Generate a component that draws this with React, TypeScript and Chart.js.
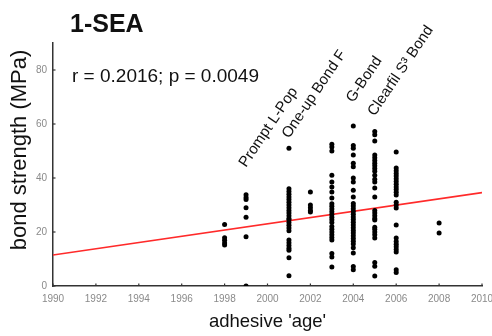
import React, { useEffect, useRef } from "react";
import { Chart, registerables } from "chart.js";

Chart.register(...registerables);

const FONT = "'Liberation Sans', Arial, sans-serif";

const titleText = "1-SEA";
const statsText = "r = 0.2016; p = 0.0049";
const xTitle = "adhesive 'age'";
const yTitle = "bond strength (MPa)";

const years = [1998, 1999, 2001, 2002, 2003, 2004, 2005, 2006, 2008];
const strengths: number[][] = [
  [22.8, 17.9, 16.9, 15.9, 15.2],
  [33.8, 32.8, 32.0, 29.0, 25.5, 18.2, 0],
  [51, 36, 35, 34, 33, 32, 31, 30, 29, 28, 27, 26, 25, 24.5, 23.5, 22.5, 21.5, 20.5, 17, 16, 15, 14, 13.2, 10.5, 3.8],
  [34.8, 30, 29, 28, 27.4],
  [52.5, 51.5, 50, 41, 38.5, 36.7, 34.8, 32.6, 30.5, 29.5, 28.5, 27.5, 26.5, 25.5, 24.5, 23.5, 22, 21, 20, 19, 18, 17, 12, 10.7, 7],
  [59.3, 52, 51, 48.5, 45.5, 44.2, 40, 38.5, 35.5, 33, 30.6, 29.6, 28.6, 27.6, 26.6, 25.6, 24.6, 23.6, 22.6, 21.6, 20.6, 19.6, 18.6, 17.6, 16.6, 15.6, 14.2, 12.2, 7.2, 6],
  [57.2, 56, 53.7, 48.5, 47.5, 46.5, 45.5, 44.5, 43.5, 42.5, 41, 39.5, 38.5, 36.3, 33, 28, 27, 26, 25, 24.4, 21.8, 21, 20, 19, 17.8, 8.7, 7.3, 3.7],
  [49.6, 43.7, 42.7, 41.7, 40.7, 39.7, 38.7, 37.7, 36.7, 35.7, 34.7, 33.7, 31, 30, 28.9, 22.6, 17.8, 16.5, 15.5, 14.5, 13.5, 12.6, 6, 5],
  [23.3, 19.6],
];

const fitYears = [1990, 2010];
const fitValues = [11.5, 34.6];

const xTicks = [1990, 1992, 1994, 1996, 1998, 2000, 2002, 2004, 2006, 2008, 2010];
const yTicks = [0, 20, 40, 60, 80];

const adhesiveNames = ["Prompt L-Pop", "One-up Bond F", "G-Bond", "Clearfil S³ Bond"];
const adhesiveYears = [1999, 2001, 2004, 2005];
const adhesiveLevels = [43.7, 54.4, 67.7, 62.7];

const textPlugin = {
  id: "textPlugin",
  afterDraw(chart: any) {
    const ctx = chart.ctx;
    const xs = chart.scales.x;
    const ys = chart.scales.y;
    const area = chart.chartArea;
    ctx.save();
    // inward tick marks
    ctx.strokeStyle = "#333";
    ctx.lineWidth = 1.2;
    xTicks.forEach((t) => {
      const px = xs.getPixelForValue(t);
      ctx.beginPath();
      ctx.moveTo(px, area.bottom);
      ctx.lineTo(px, area.bottom - 2.5);
      ctx.stroke();
    });
    yTicks.forEach((t) => {
      const py = ys.getPixelForValue(t);
      ctx.beginPath();
      ctx.moveTo(area.left, py);
      ctx.lineTo(area.left + 2.5, py);
      ctx.stroke();
    });

    ctx.fillStyle = "#111";
    ctx.textAlign = "left";
    ctx.textBaseline = "alphabetic";
    ctx.font = `bold 25px ${FONT}`;
    ctx.fillText(titleText, 70, 32);

    ctx.font = `19px ${FONT}`;
    ctx.fillText(statsText, 72, 82);

    ctx.font = `18.5px ${FONT}`;
    ctx.textAlign = "center";
    ctx.fillText(xTitle, (area.left + area.right) / 2, 327);

    ctx.save();
    ctx.translate(26, 150);
    ctx.rotate(-Math.PI / 2);
    ctx.font = `22px ${FONT}`;
    ctx.fillText(yTitle, 0, 0);
    ctx.restore();

    ctx.font = `15px ${FONT}`;
    ctx.textAlign = "left";
    adhesiveNames.forEach((name, i) => {
      const px = xs.getPixelForValue(adhesiveYears[i]);
      const py = ys.getPixelForValue(adhesiveLevels[i]);
      ctx.save();
      ctx.translate(px, py);
      ctx.rotate((-56 * Math.PI) / 180);
      ctx.fillText(name, 0, 0);
      ctx.restore();
    });
    ctx.restore();
  },
};

export default function App() {
  const ref = useRef<HTMLCanvasElement | null>(null);
  useEffect(() => {
    document.body.style.margin = "0";
    const canvas = ref.current;
    if (!canvas) return;
    const points = years.flatMap((yr, i) => strengths[i].map((v) => ({ x: yr, y: v })));
    const fit = fitYears.map((yr, i) => ({ x: yr, y: fitValues[i] }));
    const tickFont = { size: 10, family: FONT };
    const chart = new Chart(canvas, {
      type: "scatter",
      data: {
        datasets: [
          {
            data: points,
            pointRadius: 2.5,
            pointBackgroundColor: "#000",
            pointBorderWidth: 0,
            order: 0,
          },
          {
            type: "line",
            data: fit,
            borderColor: "#ff2a2a",
            borderWidth: 1.6,
            pointRadius: 0,
            showLine: true,
            fill: false,
            order: 1,
          } as any,
        ],
      },
      options: {
        responsive: false,
        animation: false,
        layout: { padding: { top: 43, right: 10, left: 0, bottom: 0 } },
        plugins: { legend: { display: false }, tooltip: { enabled: false }, title: { display: false } },
        scales: {
          x: {
            type: "linear",
            min: 1990,
            max: 2010,
            afterBuildTicks: (s: any) => {
              s.ticks = xTicks.map((v) => ({ value: v }));
            },
            afterFit: (s: any) => {
              s.height = 50;
              s.paddingLeft = 0;
              s.paddingRight = 0;
            },
            grid: { display: false, drawTicks: false },
            border: { display: true, color: "#333", width: 1.5 },
            ticks: {
              color: "#8a8a8a",
              font: tickFont,
              padding: 7,
              maxRotation: 0,
              autoSkip: false,
              callback: (v: any) => String(v),
            },
          },
          y: {
            type: "linear",
            min: 0,
            max: 90,
            afterBuildTicks: (s: any) => {
              s.ticks = yTicks.map((v) => ({ value: v }));
            },
            afterFit: (s: any) => {
              s.width = 53;
              s.paddingTop = 0;
              s.paddingBottom = 0;
            },
            grid: { display: false, drawTicks: false },
            border: { display: true, color: "#333", width: 1.5 },
            ticks: {
              color: "#8a8a8a",
              font: tickFont,
              padding: 6,
              autoSkip: false,
              callback: (v: any) => String(v),
            },
          },
        },
      },
      plugins: [textPlugin],
    });
    return () => chart.destroy();
  }, []);
  return (
    <div style={{ width: 492, height: 336 }}>
      <canvas ref={ref} width={492} height={336} />
    </div>
  );
}
